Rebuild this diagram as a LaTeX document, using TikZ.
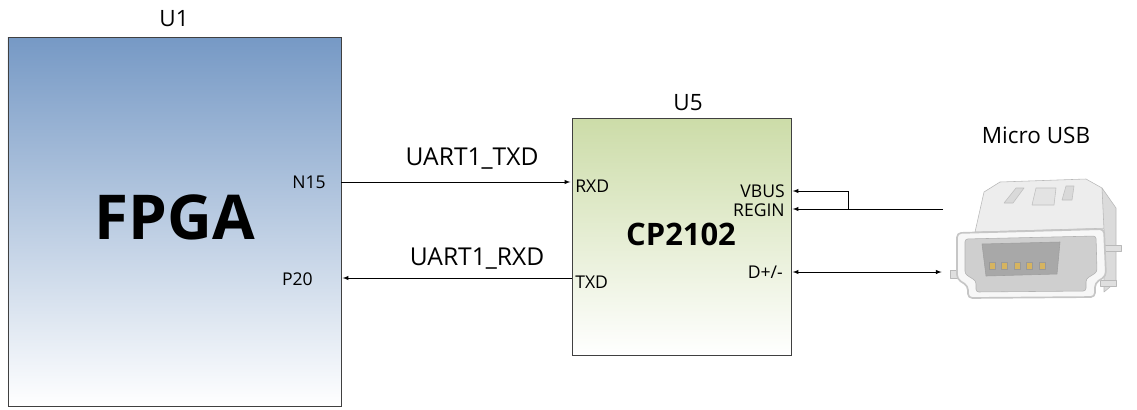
\documentclass[tikz,border=0pt]{standalone}
\usepackage{fontspec}
\setmainfont{Open Sans}
\usetikzlibrary{calc,positioning,arrows}

\definecolor{fpgablue}{RGB}{118,153,197}
\definecolor{cpgreen}{RGB}{204,220,168}
\definecolor{pingold}{RGB}{214,180,96}

\begin{document}
\begin{tikzpicture}[
  x=0.25mm,
  y=-0.25mm
]

  \path[use as bounding box] (0,0) rectangle (1137,409);

  \tikzstyle{chipnode}=[draw=black!75,rectangle,thin,inner sep=0pt]
  \tikzstyle{fpganode}=[chipnode,top color=fpgablue,bottom color=white,minimum width=83.25mm,minimum height=92.25mm]
  \tikzstyle{cpnode}=[chipnode,top color=cpgreen,bottom color=white,minimum width=54.75mm,minimum height=59.25mm]

  \tikzstyle{refnode}=[inner sep=0pt,anchor=base,font=\fontsize{16}{18}\selectfont]
  \tikzstyle{pinnode}=[inner sep=0pt,font=\fontsize{12.5}{14}\selectfont]
  \tikzstyle{netnode}=[inner sep=0pt,anchor=base,font=\fontsize{17.5}{19}\selectfont]

  \tikzstyle{pointer}=[draw,->,>=latex,shorten >=1pt]
  \tikzstyle{dblpointer}=[draw,<->,>=latex,shorten >=1pt,shorten <=1pt]

  % nodes
  \node[fpganode] (fpga) at (174.5,221.5) {};
  \node[cpnode] (cp) at (681.5,236.5) {};

  \node[refnode] (u1) at (174,26) {U1};
  \node[refnode] (u5) at (688,110) {U5};
  \node[refnode] (usblab) at (1036,143) {Micro USB};

  \node[inner sep=0pt,anchor=base,font=\fontsize{44}{48}\selectfont\bfseries] (fpgalab) at (175,239) {FPGA};
  \node[inner sep=0pt,anchor=base,font=\fontsize{22}{24}\selectfont\bfseries] (cplab) at (681,245) {CP2102};

  \node[pinnode,anchor=base east] (n15) at (326,188) {N15};
  \node[pinnode,anchor=base east] (p20) at (313,285) {P20};
  \node[pinnode,anchor=base west] (rxd) at (575,192) {RXD};
  \node[pinnode,anchor=base west] (txd) at (575,288) {TXD};
  \node[pinnode,anchor=base east] (vbus) at (785,197) {VBUS};
  \node[pinnode,anchor=base east] (regin) at (785,216) {REGIN};
  \node[pinnode,anchor=base east] (dpm) at (783,278) {D+/-};

  \coordinate (rowtx) at (0,182);
  \coordinate (rowrx) at (0,278);
  \coordinate (rowvbus) at (0,191);
  \coordinate (rowregin) at (0,209);
  \coordinate (rowdata) at (0,272);
  \coordinate (usbport) at (943,0);
  \coordinate (vjoin) at (848,0);

  \node[netnode] (txnet) at (472,165) {UART1\_TXD};
  \node[netnode] (rxnet) at (477,265) {UART1\_RXD};

  % micro usb connector
  \begin{scope}[line join=round]
    \filldraw[fill=gray!14,draw=gray!55] (975,232) -- (984,192) -- (1000,182) -- (1086,179) -- (1102,188) -- (1112,228) -- cycle;
    \filldraw[fill=gray!30,draw=gray!50] (1004,203) -- (1016,188) -- (1024,188) -- (1013,203) -- cycle;
    \filldraw[fill=gray!30,draw=gray!50] (1062,200) -- (1066,186) -- (1074,186) -- (1072,200) -- cycle;
    \filldraw[fill=gray!22,draw=gray!50] (1032,205) -- (1036,188) -- (1056,188) -- (1054,205) -- cycle;
    \filldraw[fill=gray!28,draw=gray!55] (1102,188) -- (1116,208) -- (1116,282) -- (1104,292) -- (1104,230) -- cycle;
    \filldraw[fill=gray!25,draw=gray!55] (1104,245) rectangle (1121,251);
    \filldraw[fill=gray!25,draw=gray!55] (1100,280) rectangle (1116,286);
    \filldraw[fill=gray!25,draw=gray!55] (950,270) rectangle (960,278);
    \filldraw[fill=gray!6,draw=gray!45,line width=1.2pt,rounded corners=3pt] (957,233) -- (1104,229) -- (1106,276) -- (1095,283) -- (1095,297) -- (968,298) -- (968,286) -- (957,279) -- cycle;
    \filldraw[fill=gray!38,draw=gray!60,rounded corners=2pt] (965,239) -- (1096,236) -- (1097,272) -- (1086,279) -- (1086,291) -- (976,292) -- (976,281) -- (965,274) -- cycle;
    \filldraw[fill=gray!68,draw=gray!75] (982,244) -- (1060,242) -- (1057,274) -- (986,276) -- cycle;
    \foreach \px in {992,1004,1017,1029,1042}
      \filldraw[fill=pingold,draw=gray!80] (\px-3,262) rectangle (\px+3,269);
  \end{scope}

  % pointers
  \draw[pointer] (fpga.east |- rowtx) -- (cp.west |- rowtx);
  \draw[pointer] (cp.west |- rowrx) -- (fpga.east |- rowrx);
  \draw[pointer] (vjoin |- rowvbus) -- (cp.east |- rowvbus);
  \draw (vjoin |- rowvbus) -- (vjoin |- rowregin);
  \draw[pointer] (usbport |- rowregin) -- (cp.east |- rowregin);
  \draw[dblpointer] (cp.east |- rowdata) -- (usbport |- rowdata);

\end{tikzpicture}
\end{document}
